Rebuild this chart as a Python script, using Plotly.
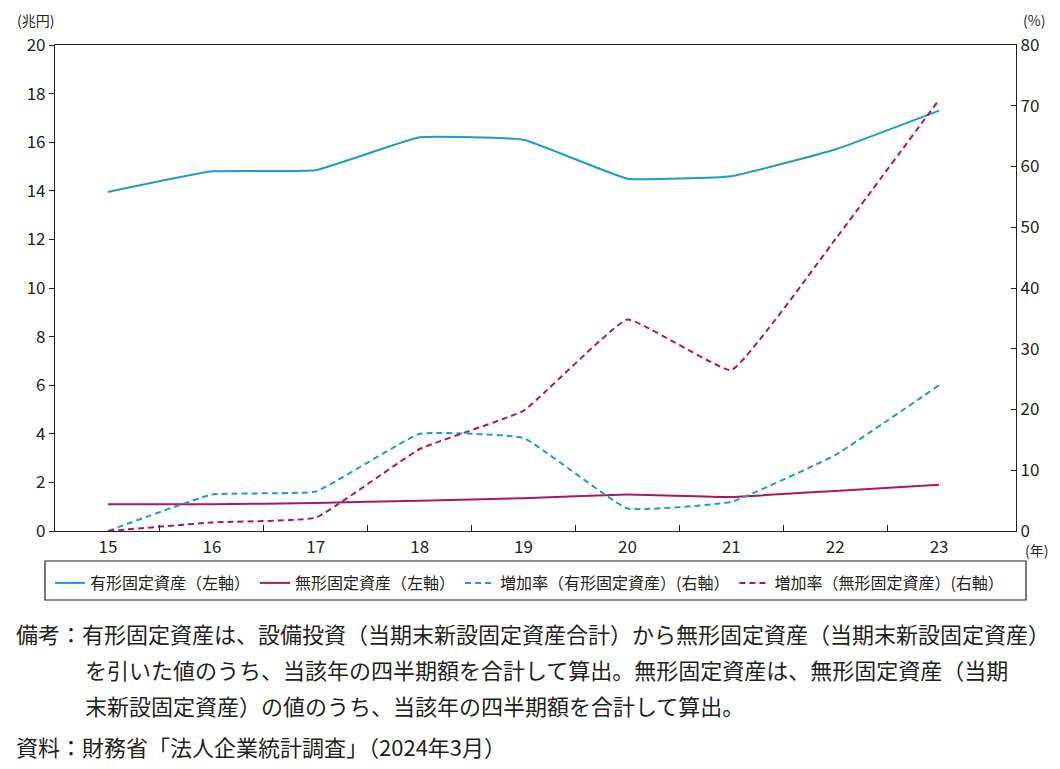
import plotly.graph_objects as go

years = ["15", "16", "17", "18", "19", "20", "21", "22", "23"]
tangible = [13.95, 14.8, 14.85, 16.2, 16.1, 14.5, 14.6, 15.7, 17.3]
intangible = [1.1, 1.1, 1.15, 1.25, 1.35, 1.5, 1.4, 1.65, 1.9]
growth_tangible = [0.0, 6.0, 6.5, 16.0, 15.3, 3.7, 4.8, 12.5, 24.0]
growth_intangible = [0.0, 1.4, 2.2, 13.5, 19.8, 34.8, 26.5, 48.0, 71.0]

left_ticks = [0, 2, 4, 6, 8, 10, 12, 14, 16, 18, 20]
right_ticks = [0, 10, 20, 30, 40, 50, 60, 70, 80]

names = ["有形固定資産（左軸）", "無形固定資産（左軸）",
         "増加率（有形固定資産）(右軸）", "増加率（無形固定資産）(右軸）"]

BLUE = "#1e9bc8"
MAG = "#ae175f"
FONT = "Noto Sans CJK JP"

W, H = 1060, 769
L, R, T, B = 55, 1016, 45, 531


def px(xp):
    return (xp - L) / (R - L)


def py(yp):
    return (B - yp) / (B - T)


xs = list(range(len(years)))
fig = go.Figure()
line_kw = dict(shape="spline", smoothing=0.3, width=2)
fig.add_trace(go.Scatter(x=xs, y=tangible, name=names[0], mode="lines",
                         line=dict(color=BLUE, **line_kw)))
fig.add_trace(go.Scatter(x=xs, y=intangible, name=names[1], mode="lines",
                         line=dict(color=MAG, **line_kw)))
fig.add_trace(go.Scatter(x=xs, y=growth_tangible, name=names[2], mode="lines",
                         yaxis="y2", line=dict(color=BLUE, dash="6px,4px", **line_kw)))
fig.add_trace(go.Scatter(x=xs, y=growth_intangible, name=names[3], mode="lines",
                         yaxis="y2", line=dict(color=MAG, dash="6px,4px", **line_kw)))

n = len(years)
fig.update_layout(
    width=W, height=H,
    margin=dict(l=L, r=W - R, t=T, b=H - B),
    paper_bgcolor="white", plot_bgcolor="white",
    font=dict(family=FONT, size=17, color="#231f20"),
    showlegend=True,
    legend=dict(orientation="h", x=px(50), xanchor="left", y=py(566), yanchor="top",
                font=dict(size=16, family=FONT), bgcolor="rgba(0,0,0,0)",
                borderwidth=0, itemwidth=30, tracegroupgap=0),
    xaxis=dict(range=[-0.51, n - 1 + 0.74], tickmode="array", tickvals=xs, ticktext=years,
               ticks="", showline=True, linecolor="#231f20", linewidth=1.2, mirror=True,
               showgrid=False, zeroline=False, tickfont=dict(size=17),
               minor=dict(tickmode="array", tickvals=[i + 0.5 for i in range(n - 1)],
                          ticks="inside", ticklen=6, tickcolor="#231f20", showgrid=False)),
    yaxis=dict(range=[0, 20], tickvals=left_ticks, ticks="outside", ticklen=5,
               tickcolor="#231f20", showline=True, linecolor="#231f20", linewidth=1.2,
               mirror=True, showgrid=False, zeroline=False, tickfont=dict(size=17)),
    yaxis2=dict(range=[0, 80], tickvals=right_ticks, overlaying="y", side="right",
                ticks="inside", ticklen=5, tickcolor="#231f20", showline=True,
                linecolor="#231f20", linewidth=1.2, showgrid=False, zeroline=False,
                tickfont=dict(size=17)),
)

# legend frame
fig.add_shape(type="rect", xref="paper", yref="paper", x0=px(45), x1=px(1026),
              y0=py(561), y1=py(600), line=dict(color="#231f20", width=1.2))

ann = []
ann.append(dict(text="(兆円)", x=px(35), y=py(20), xanchor="center", yanchor="middle",
                font=dict(size=14)))
ann.append(dict(text="(%)", x=px(1034), y=py(20), xanchor="center", yanchor="middle",
                font=dict(size=14)))
ann.append(dict(text="(年)", x=px(1036), y=py(550), xanchor="center", yanchor="middle",
                font=dict(size=14)))

notes = [
    (14, 633, "備考：有形固定資産は、設備投資（当期末新設固定資産合計）から無形固定資産（当期末新設固定資産）"),
    (83, 669, "を引いた値のうち、当該年の四半期額を合計して算出。無形固定資産は、無形固定資産（当期"),
    (83, 705, "末新設固定資産）の値のうち、当該年の四半期額を合計して算出。"),
    (14, 746, "資料：財務省「法人企業統計調査」（2024年3月）"),
]
for xp, yp, t in notes:
    ann.append(dict(text=t, x=px(xp), y=py(yp), xanchor="left", yanchor="middle",
                    font=dict(size=22)))

for a in ann:
    a.update(xref="paper", yref="paper", showarrow=False)
fig.update_layout(annotations=ann)

fig.write_html("out.html")
